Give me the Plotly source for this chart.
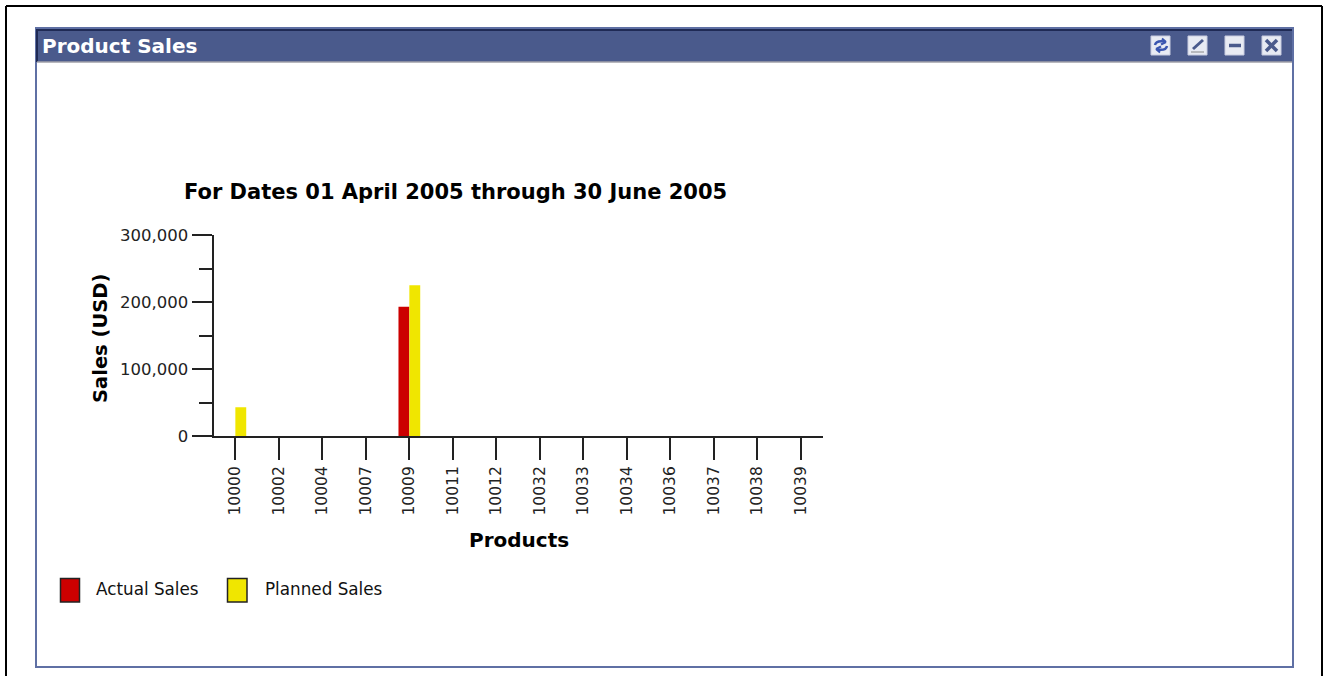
import plotly.graph_objects as go

W, H = 1328, 676
products = ["10000","10002","10004","10007","10009","10011","10012","10032","10033","10034","10036","10037","10038","10039"]
actual_sales = [0,0,0,0,193000,0,0,0,0,0,0,0,0,0]
planned_sales = [43000,0,0,0,225000,0,0,0,0,0,0,0,0,0]
RED, YEL = "#cc0000", "#f0e600"
BLUE = "#4a5a8c"
FONT = "DejaVu Sans"

def px(x): return x / W
def py(y): return 1 - y / H

shapes, ann = [], []
def rect(x0, y0, x1, y1, fill=None, line=None, lw=1):
    shapes.append(dict(type="rect", xref="paper", yref="paper", x0=px(x0), x1=px(x1), y0=py(y0), y1=py(y1),
                       fillcolor=fill or "rgba(0,0,0,0)", line=dict(color=line or "rgba(0,0,0,0)", width=lw if line else 0), layer="below"))
def seg(x0, y0, x1, y1, color, lw=1):
    shapes.append(dict(type="line", xref="paper", yref="paper", x0=px(x0), x1=px(x1), y0=py(y0), y1=py(y1),
                       line=dict(color=color, width=lw), layer="above"))
def curve(x0, y0, cx, cy, x1, y1, color, lw=1):
    shapes.append(dict(type="path", xref="paper", yref="paper", layer="above", line=dict(color=color, width=lw),
                       path=f"M {px(x0)} {py(y0)} Q {px(cx)} {py(cy)} {px(x1)} {py(y1)}"))
def text(x, y, s, size, color="#111111", bold=False, anchor="left", angle=0):
    ann.append(dict(xref="paper", yref="paper", x=px(x), y=py(y), text=f"<b>{s}</b>" if bold else s, showarrow=False,
                    xanchor=anchor, yanchor="middle", textangle=angle, font=dict(family=FONT, size=size, color=color)))

# outer black frame (open at the bottom)
seg(6, 676, 6, 6, "#000000", 2); seg(6, 6, 1322, 6, "#000000", 2); seg(1322, 6, 1322, 676, "#000000", 2)
# portlet
rect(36, 28, 1293, 667, "#ffffff", "#5f70a4", 2)
rect(37, 29, 1292, 62, BLUE)
seg(37, 30, 1292, 30, "#1f2a55", 2)
seg(37, 29, 37, 62, "#1f2a55", 2)
seg(37, 62, 1292, 62, "#a0a0a8", 1.5)
text(40, 46, "Product Sales", 20, "#ffffff", True)

# window icons
for x in (1151, 1188, 1225, 1262):
    rect(x, 36, x + 19, 55, "#e8ebf3", "#c8cce0", 1)
curve(1155, 45, 1156, 40, 1165, 41.5, "#3a56b0", 2.5)                               # refresh
seg(1162, 38.5, 1166, 42, "#3a56b0", 2); seg(1166, 42, 1161, 44.5, "#3a56b0", 2)
curve(1167, 46, 1166, 51, 1157, 49.5, "#3a56b0", 2.5)
seg(1160, 52.5, 1156, 49, "#3a56b0", 2); seg(1156, 49, 1161, 46.5, "#3a56b0", 2)
seg(1193, 49, 1203, 40, "#4a5a8c", 3); seg(1191, 52, 1204, 52, "#888888", 1)       # edit
seg(1229, 45.5, 1241, 45.5, "#4a5a8c", 3.5)                                         # minimise
seg(1266, 40, 1277, 51, "#4a5a8c", 3.5); seg(1277, 40, 1266, 51, "#4a5a8c", 3.5)    # close

text(455, 192, "For Dates 01 April 2005 through 30 June 2005", 21, "#000000", True, "center")
text(101, 339, "Sales (USD)", 19.5, "#000000", True, "center", -90)
text(518.5, 540, "Products", 20, "#000000", True, "center")

# legend
rect(60.5, 578.5, 79.5, 602, RED, "#222222", 1.5)
rect(227.5, 578.5, 247, 602, YEL, "#222222", 1.5)
text(94, 589, "Actual Sales", 16.8)
text(263, 589, "Planned Sales", 16.8)

fig = go.Figure()
fig.add_bar(x=products, y=actual_sales, name="Actual Sales", marker=dict(color=RED, line_width=0))
fig.add_bar(x=products, y=planned_sales, name="Planned Sales", marker=dict(color=YEL, line_width=0))
fig.update_layout(
    width=W, height=H, autosize=False, margin=dict(l=0, r=0, t=0, b=0, autoexpand=False),
    paper_bgcolor="#ffffff", plot_bgcolor="rgba(0,0,0,0)",
    barmode="group", bargap=0.5, bargroupgap=0, showlegend=False,
    font=dict(family=FONT, size=16, color="#222222"),
    shapes=shapes, annotations=ann,
    xaxis=dict(domain=[px(213.6), px(822.6)], type="category", range=[-0.5, 13.5], showgrid=False, zeroline=False,
               showline=True, linecolor="#222222", linewidth=2, ticks="outside", ticklen=22, tickwidth=1.5,
               tickcolor="#222222", tickangle=-90, tickfont=dict(size=15.5), automargin=False),
    yaxis=dict(domain=[py(436), py(235)], range=[0, 300000], tickvals=[0, 100000, 200000, 300000],
               tickformat=",d", showgrid=False, zeroline=False, showline=True, linecolor="#222222", linewidth=2,
               ticks="outside", ticklen=20, tickwidth=1.5, tickcolor="#222222", tickfont=dict(size=16.5), automargin=False,
               minor=dict(tickvals=[50000, 150000, 250000], ticks="outside", ticklen=13, tickwidth=1.5, tickcolor="#222222")),
)
fig.write_html("out.html", post_script="document.body.style.margin='0';document.body.style.overflow='hidden';",
               config=dict(displayModeBar=False))
